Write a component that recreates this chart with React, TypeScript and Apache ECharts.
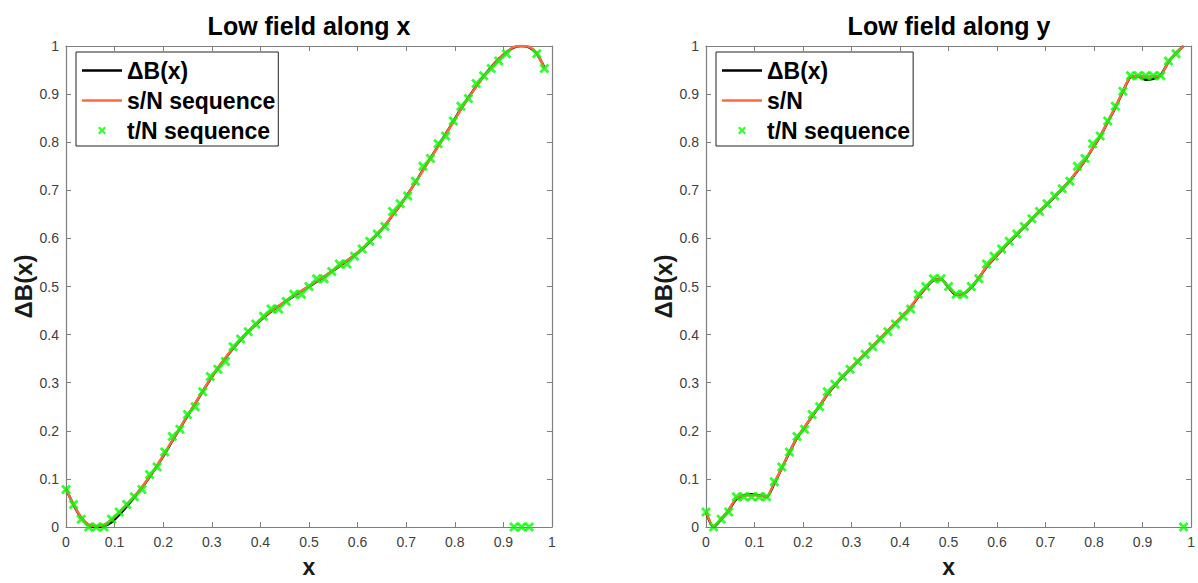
import React, { useEffect, useRef } from "react";
import * as echarts from "echarts";

// sample positions t/64
const xGrid = [
  0, 0.0156, 0.0313, 0.0469, 0.0625, 0.0781, 0.0938, 0.1094, 0.125, 0.1406,
  0.1563, 0.1719, 0.1875, 0.2031, 0.2188, 0.2344, 0.25, 0.2656, 0.2813, 0.2969,
  0.3125, 0.3281, 0.3438, 0.3594, 0.375, 0.3906, 0.4063, 0.4219, 0.4375, 0.4531,
  0.4688, 0.4844, 0.5, 0.5156, 0.5313, 0.5469, 0.5625, 0.5781, 0.5938, 0.6094,
  0.625, 0.6406, 0.6563, 0.6719, 0.6875, 0.7031, 0.7188, 0.7344, 0.75, 0.7656,
  0.7813, 0.7969, 0.8125, 0.8281, 0.8438, 0.8594, 0.875, 0.8906, 0.9063, 0.9219,
  0.9375, 0.9531, 0.9688, 0.9844,
];

// Low field along x
const dBx = [
  0.079, 0.046, 0.019, 0.004, 0.0, 0.002, 0.01, 0.025, 0.043, 0.062,
  0.082, 0.104, 0.127, 0.152, 0.179, 0.205, 0.231, 0.256, 0.282, 0.307,
  0.33, 0.351, 0.371, 0.389, 0.406, 0.421, 0.435, 0.448, 0.459, 0.47,
  0.48, 0.49, 0.5, 0.51, 0.52, 0.531, 0.542, 0.553, 0.565, 0.578,
  0.593, 0.609, 0.627, 0.648, 0.669, 0.692, 0.716, 0.742, 0.767, 0.792,
  0.817, 0.843, 0.869, 0.893, 0.916, 0.937, 0.956, 0.973, 0.987, 0.997,
  1.0, 0.997, 0.984, 0.955,
];
const sNx = [
  0.078, 0.047, 0.02, 0.005, 0.002, 0.005, 0.015, 0.03, 0.047, 0.064,
  0.083, 0.105, 0.128, 0.154, 0.18, 0.206, 0.232, 0.257, 0.283, 0.308,
  0.331, 0.352, 0.372, 0.39, 0.407, 0.422, 0.436, 0.449, 0.46, 0.471,
  0.481, 0.491, 0.501, 0.511, 0.521, 0.532, 0.543, 0.554, 0.566, 0.579,
  0.594, 0.61, 0.628, 0.648, 0.669, 0.692, 0.716, 0.741, 0.766, 0.791,
  0.816, 0.842, 0.868, 0.892, 0.915, 0.936, 0.955, 0.972, 0.987, 0.998,
  1.0, 0.998, 0.985, 0.953,
];
const tNx = [
  0.078, 0.047, 0.016, 0, 0, 0, 0.016, 0.031, 0.047, 0.063,
  0.078, 0.109, 0.125, 0.156, 0.188, 0.203, 0.234, 0.25, 0.281, 0.313,
  0.328, 0.344, 0.375, 0.391, 0.406, 0.422, 0.438, 0.453, 0.453, 0.469,
  0.484, 0.484, 0.5, 0.516, 0.516, 0.531, 0.547, 0.547, 0.563, 0.578,
  0.594, 0.609, 0.625, 0.656, 0.672, 0.688, 0.719, 0.75, 0.766, 0.797,
  0.813, 0.844, 0.875, 0.891, 0.922, 0.938, 0.953, 0.969, 0.984, 0,
  0, 0, 0.984, 0.953,
];

// Low field along y
const dBy = [
  0.031, 0.0, 0.016, 0.035, 0.058, 0.066, 0.068, 0.066, 0.063, 0.09,
  0.122, 0.155, 0.185, 0.207, 0.23, 0.252, 0.275, 0.294, 0.312, 0.328,
  0.344, 0.36, 0.376, 0.392, 0.408, 0.424, 0.44, 0.457, 0.478, 0.497,
  0.513, 0.515, 0.498, 0.483, 0.485, 0.498, 0.518, 0.54, 0.558, 0.575,
  0.592, 0.608, 0.624, 0.64, 0.656, 0.671, 0.687, 0.703, 0.72, 0.74,
  0.762, 0.787, 0.812, 0.842, 0.872, 0.905, 0.935, 0.937, 0.93, 0.932,
  0.94, 0.966, 0.985, 1.0,
];
const sNy = [
  0.032, 0.002, 0.018, 0.036, 0.06, 0.065, 0.066, 0.065, 0.064, 0.092,
  0.123, 0.156, 0.186, 0.208, 0.231, 0.253, 0.276, 0.295, 0.313, 0.329,
  0.345, 0.361, 0.377, 0.393, 0.409, 0.425, 0.441, 0.458, 0.479, 0.498,
  0.514, 0.515, 0.499, 0.484, 0.485, 0.499, 0.519, 0.541, 0.559, 0.576,
  0.593, 0.609, 0.625, 0.641, 0.657, 0.672, 0.688, 0.704, 0.721, 0.741,
  0.763, 0.788, 0.813, 0.843, 0.873, 0.906, 0.936, 0.938, 0.936, 0.937,
  0.939, 0.967, 0.985, 1.0,
];
const tNy = [
  0.031, 0, 0.016, 0.031, 0.063, 0.063, 0.063, 0.063, 0.063, 0.094,
  0.125, 0.156, 0.188, 0.203, 0.234, 0.25, 0.281, 0.297, 0.313, 0.328,
  0.344, 0.359, 0.375, 0.391, 0.406, 0.422, 0.438, 0.453, 0.484, 0.5,
  0.516, 0.516, 0.5, 0.484, 0.484, 0.5, 0.516, 0.547, 0.563, 0.578,
  0.594, 0.609, 0.625, 0.641, 0.656, 0.672, 0.688, 0.703, 0.719, 0.75,
  0.766, 0.797, 0.813, 0.844, 0.875, 0.906, 0.938, 0.938, 0.938, 0.938,
  0.938, 0.969, 0.984, 0,
];

const titles = ["Low field along x", "Low field along y"];
const legendNames = [
  ["ΔB(x)", "s/N sequence", "t/N sequence"],
  ["ΔB(x)", "s/N", "t/N sequence"],
];

const FONT = "'Liberation Sans', Arial, Helvetica, sans-serif";
const AXIS_GRAY = "#7f7f7f";
const ORANGE = "#ff6a3c";
const GREEN = "#00ff00";
const XMARK =
  "path://M0,2 L2,0 L5,3 L8,0 L10,2 L7,5 L10,8 L8,10 L5,7 L2,10 L0,8 L3,5 Z";
const LINE_ICON = "path://M0,0 L40,0 L40,2.5 L0,2.5 Z";

const pairs = (ys: number[]) => ys.map((y, i) => [xGrid[i], y]);

export default function App() {
  const ref = useRef<HTMLDivElement>(null);
  useEffect(() => {
    if (!ref.current) return;
    const chart = echarts.init(ref.current, null, { renderer: "svg" });
    const grids = [
      { left: 66, top: 46, width: 486, height: 487 },
      { left: 706, top: 46, width: 486, height: 487 },
    ];
    const xAxes: any[] = [];
    const yAxes: any[] = [];
    [0, 1].forEach((g) => {
      const base = {
        type: "value",
        gridIndex: g,
        min: 0,
        max: 1,
        interval: 0.1,
        splitLine: { show: false },
        axisLine: { onZero: false, lineStyle: { color: AXIS_GRAY, width: 1.2 } },
        axisTick: { inside: true, length: 5, lineStyle: { color: AXIS_GRAY } },
      };
      xAxes.push({
        ...base,
        position: "bottom",
        axisLabel: { color: "#404040", fontSize: 14, margin: 8, fontFamily: FONT },
        name: "x",
        nameLocation: "middle",
        nameGap: 28,
        nameTextStyle: { fontWeight: "bold", fontSize: 23, color: "#1a1a1a", fontFamily: FONT },
      });
      xAxes.push({ ...base, position: "top", axisLabel: { show: false } });
      yAxes.push({
        ...base,
        position: "left",
        axisLabel: { color: "#404040", fontSize: 14, margin: 7, fontFamily: FONT },
        name: "ΔB(x)",
        nameLocation: "middle",
        nameGap: 30,
        nameRotate: 90,
        nameTextStyle: { fontWeight: "bold", fontSize: 24, color: "#1a1a1a", fontFamily: FONT },
      });
      yAxes.push({ ...base, position: "right", axisLabel: { show: false } });
    });

    const sets = [
      { dB: dBx, sN: sNx, tN: tNx },
      { dB: dBy, sN: sNy, tN: tNy },
    ];
    const series: any[] = [];
    sets.forEach((s, g) => {
      series.push({
        type: "line",
        name: legendNames[g][0],
        xAxisIndex: g * 2,
        yAxisIndex: g * 2,
        data: pairs(s.dB),
        symbol: "none",
        smooth: 0.25,
        lineStyle: { color: "#000", width: 2.5 },
        itemStyle: { color: "#000" },
        z: 2,
      });
      series.push({
        type: "line",
        name: legendNames[g][1],
        xAxisIndex: g * 2,
        yAxisIndex: g * 2,
        data: pairs(s.sN),
        symbol: "none",
        smooth: 0.25,
        lineStyle: { color: ORANGE, width: 2.5 },
        itemStyle: { color: ORANGE },
        z: 3,
      });
      series.push({
        type: "scatter",
        name: legendNames[g][2],
        xAxisIndex: g * 2,
        yAxisIndex: g * 2,
        data: pairs(s.tN),
        symbol: XMARK,
        symbolSize: 10,
        itemStyle: { color: GREEN },
        z: 4,
        clip: false,
      });
    });

    const legends = [0, 1].map((g) => ({
      orient: "vertical",
      left: g === 0 ? 76 : 716,
      top: 52,
      data: [
        { name: legendNames[g][0], icon: LINE_ICON },
        { name: legendNames[g][1], icon: LINE_ICON },
        { name: legendNames[g][2], icon: XMARK },
      ],
      selectedMode: false,
      itemWidth: 40,
      itemHeight: 8,
      itemGap: 7,
      padding: [7, 3, 4, 6],
      borderColor: "#222",
      borderWidth: 1,
      backgroundColor: "#fff",
      textStyle: { fontSize: 23, fontWeight: "bold", color: "#000", fontFamily: FONT },
    }));

    chart.setOption({
      animation: false,
      backgroundColor: "#fff",
      grid: grids,
      xAxis: xAxes,
      yAxis: yAxes,
      legend: legends,
      series,
      graphic: titles.map((t, g) => ({
        type: "text",
        x: g === 0 ? 309 : 949,
        y: 26,
        style: {
          text: t,
          font: `bold 25px ${FONT}`,
          fill: "#000",
          textAlign: "center",
          textVerticalAlign: "middle",
        },
      })),
    });
    return () => chart.dispose();
  }, []);
  return (
    <div
      ref={ref}
      style={{ position: "fixed", left: 0, top: 0, width: 1198, height: 583 }}
    />
  );
}
